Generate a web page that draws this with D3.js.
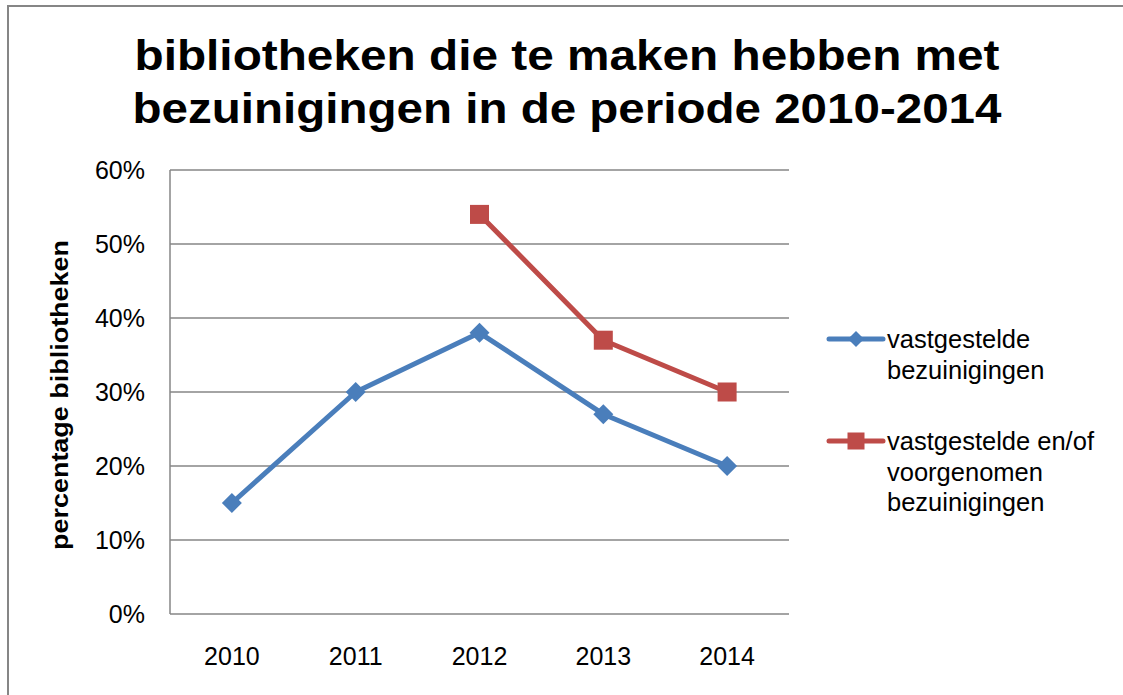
<!DOCTYPE html>
<html>
<head>
<meta charset="utf-8">
<script src="https://cdn.jsdelivr.net/npm/d3@7"></script>
<style>
  body { margin: 0; background: white; }
  svg { display: block; font-family: "Liberation Sans", Arial, sans-serif; }
</style>
</head>
<body>
<script>

// data
var years = ["2010", "2011", "2012", "2013", "2014"];
var vastgesteld = [0.15, 0.30, 0.38, 0.27, 0.20];
var voorgenomen = [null, null, 0.54, 0.37, 0.30];
var yTicks = [0, 0.1, 0.2, 0.3, 0.4, 0.5, 0.6];
var titleLines = ["bibliotheken die te maken hebben met", "bezuinigingen in de periode 2010-2014"];

var w = 1123, h = 695;

// plot area (don't call it "top", that's window.top)
var plotLeft = 170, plotRight = 789, plotTop = 170, plotBottom = 614;

var svg = d3.select("body").append("svg")
    .attr("width", w).attr("height", h);

svg.append("rect").attr("x", 0).attr("y", 0).attr("width", w).attr("height", h).style("fill", "white");

// outer chart border
svg.append("rect")
    .attr("x", 8).attr("y", 6).attr("width", w + 10).attr("height", h + 10)
    .style("fill", "none").style("stroke", "#868686").style("stroke-width", 2);

var x = d3.scaleBand().domain(years).range([plotLeft, plotRight]);
var y = d3.scaleLinear().domain([0, 0.6]).range([plotBottom, plotTop]);

// title
var titleWidths = [865, 869];
svg.append("g").selectAll("text")
    .data(titleLines).enter().append("text")
    .attr("x", 567)
    .attr("y", function(d, i) { return 70 + i * 53; })
    .attr("text-anchor", "middle")
    .attr("font-weight", "bold")
    .attr("font-size", 43)
    .attr("textLength", function(d, i) { return titleWidths[i]; })
    .attr("lengthAdjust", "spacingAndGlyphs")
    .attr("fill", "black")
    .text(function(d) { return d; });

// gridlines
svg.append("g").selectAll("line")
    .data(yTicks).enter().append("line")
    .attr("x1", plotLeft).attr("x2", plotRight)
    .attr("y1", function(d) { return y(d); })
    .attr("y2", function(d) { return y(d); })
    .style("stroke", "#868686").style("stroke-width", 1.5);

// y axis line
svg.append("line")
    .attr("x1", plotLeft).attr("x2", plotLeft).attr("y1", plotTop).attr("y2", plotBottom)
    .style("stroke", "#868686").style("stroke-width", 1.5);

// y axis labels
var yAxis = d3.axisLeft(y).tickValues(yTicks).tickFormat(d3.format(".0%")).tickSize(0).tickPadding(25);
var yg = svg.append("g").attr("transform", "translate(" + plotLeft + ",0)").call(yAxis);
yg.select(".domain").remove();
yg.selectAll("text").attr("font-size", 25).attr("font-family", "Liberation Sans, Arial, sans-serif")
    .attr("fill", "black").attr("dy", "0.35em");

// x axis labels
var xAxis = d3.axisBottom(x).tickSize(0).tickPadding(33);
var xg = svg.append("g").attr("transform", "translate(0," + plotBottom + ")").call(xAxis);
xg.select(".domain").remove();
xg.selectAll("text").attr("font-size", 25).attr("font-family", "Liberation Sans, Arial, sans-serif")
    .attr("fill", "black");

// y axis title
svg.append("text")
    .attr("transform", "translate(68,395) rotate(-90)")
    .attr("text-anchor", "middle")
    .attr("font-weight", "bold")
    .attr("font-size", 23)
    .attr("textLength", 310)
    .attr("lengthAdjust", "spacingAndGlyphs")
    .attr("fill", "black")
    .text("percentage bibliotheken");

var cx = function(i) { return x(years[i]) + x.bandwidth() / 2; };

var line = d3.line()
    .defined(function(d) { return d !== null; })
    .x(function(d, i) { return cx(i); })
    .y(function(d) { return y(d); });

var blue = "#4A7EBB", red = "#BE4B48";

// series lines
svg.append("path").datum(vastgesteld).attr("d", line)
    .style("fill", "none").style("stroke", blue).style("stroke-width", 5).style("stroke-linejoin", "round");
svg.append("path").datum(voorgenomen).attr("d", line)
    .style("fill", "none").style("stroke", red).style("stroke-width", 5).style("stroke-linejoin", "round");

var diamond = d3.symbol().type(d3.symbolSquare).size(200);
var legendDiamond = d3.symbol().type(d3.symbolSquare).size(130);

// markers
svg.append("g").selectAll("path")
    .data(vastgesteld).enter().append("path")
    .attr("d", diamond)
    .attr("transform", function(d, i) { return "translate(" + cx(i) + "," + y(d) + ") rotate(45)"; })
    .style("fill", blue);

svg.append("g").selectAll("rect")
    .data(voorgenomen.map(function(d, i) { return {v: d, i: i}; }).filter(function(d) { return d.v !== null; }))
    .enter().append("rect")
    .attr("x", function(d) { return cx(d.i) - 9.5; })
    .attr("y", function(d) { return y(d.v) - 9.5; })
    .attr("width", 19).attr("height", 19)
    .style("fill", red);

// legend
var legend = [
  {color: blue, shape: "diamond", y: 339, lines: ["vastgestelde", "bezuinigingen"]},
  {color: red, shape: "square", y: 441, lines: ["vastgestelde en/of", "voorgenomen", "bezuinigingen"]}
];

legend.forEach(function(l) {
  var g = svg.append("g");
  g.append("line").attr("x1", 829).attr("x2", 883).attr("y1", l.y).attr("y2", l.y)
      .style("stroke", l.color).style("stroke-width", 5).style("stroke-linecap", "round");
  if (l.shape == "diamond") {
    g.append("path").attr("d", legendDiamond)
        .attr("transform", "translate(856," + l.y + ") rotate(45)").style("fill", l.color);
  } else {
    g.append("rect").attr("x", 847.5).attr("y", l.y - 8.5).attr("width", 17).attr("height", 17).style("fill", l.color);
  }
  g.selectAll("text").data(l.lines).enter().append("text")
      .attr("x", 887)
      .attr("y", function(d, i) { return l.y + 9 + i * 30.5; })
      .attr("font-size", 25.5)
      .attr("fill", "black")
      .text(function(d) { return d; });
});

</script>
</body>
</html>
